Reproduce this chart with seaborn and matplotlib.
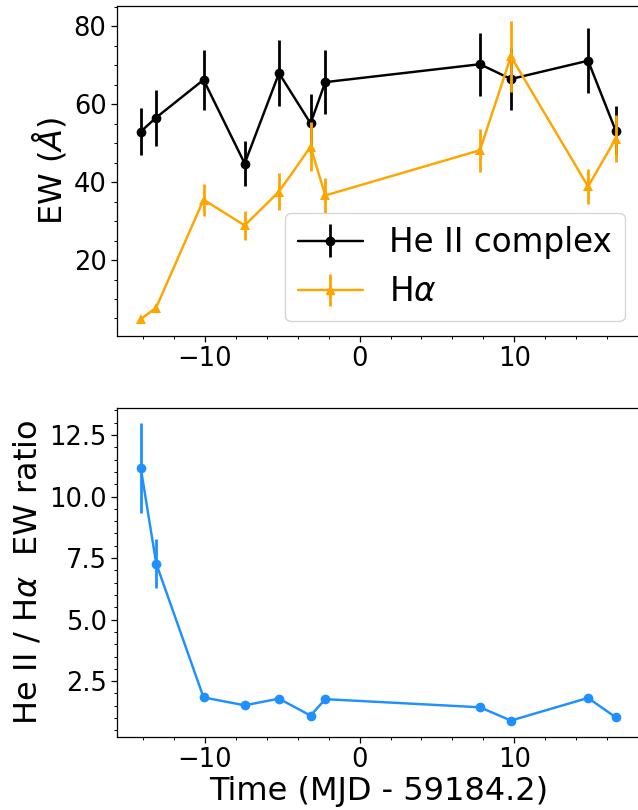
import numpy as np
import pandas as pd
import matplotlib
matplotlib.use("Agg")
import matplotlib.pyplot as plt
import seaborn as sns

# ---- data ----
time = [-14.15, -13.15, -10.09, -7.43, -5.21, -3.17, -2.22, 7.78, 9.78, 14.77, 16.56]
heii_ew = [53.0, 56.6, 66.3, 44.8, 68.0, 55.1, 65.7, 70.3, 66.5, 71.2, 53.2]
heii_err = [6.0, 7.2, 7.7, 5.7, 8.5, 7.5, 8.3, 8.1, 8.0, 8.3, 6.3]
ha_ew = [4.8, 7.8, 35.5, 28.9, 37.6, 49.1, 36.6, 48.2, 72.3, 38.9, 51.2]
ha_err = [0.45, 0.5, 4.1, 3.65, 4.7, 6.3, 4.55, 5.5, 9.1, 4.4, 6.0]
ratio = [11.17, 7.28, 1.84, 1.52, 1.79, 1.10, 1.77, 1.44, 0.90, 1.82, 1.03]
ratio_err = [1.82, 1.0, 0.12, 0.1, 0.12, 0.1, 0.12, 0.1, 0.06, 0.12, 0.1]

labels = ["He II complex", r"H$\alpha$"]
ylabel_top = r"EW ($\AA$)"
ylabel_bot = r"He II / H$\alpha$  EW ratio"
xlabel = "Time (MJD - 59184.2)"

sns.set_style("white")
plt.rcParams["font.family"] = ["DejaVu Sans"]
plt.rcParams["axes.edgecolor"] = "black"
plt.rcParams["xtick.color"] = "black"
plt.rcParams["ytick.color"] = "black"
plt.rcParams["text.color"] = "black"
plt.rcParams["axes.labelcolor"] = "black"
plt.rcParams["xtick.bottom"] = True
plt.rcParams["ytick.left"] = True

df = pd.DataFrame({"time": time, "heii": heii_ew, "heii_err": heii_err,
                   "ha": ha_ew, "ha_err": ha_err, "ratio": ratio, "ratio_err": ratio_err})

fig = plt.figure(figsize=(6.38, 8.1), dpi=100)
W, H = 638.0, 810.0
left, right = 117, 639.5
ax1 = fig.add_axes([left / W, 1 - 336 / H, (right - left) / W, 330 / H])
ax2 = fig.add_axes([left / W, 1 - 737 / H, (right - left) / W, 329 / H])

MS = 7
LW = 1.75
ELW = 2.0

# top panel
sns.lineplot(data=df, x="time", y="heii", ax=ax1, color="k", marker="o",
             markersize=MS, markeredgewidth=0, lw=LW, legend=False)
ax1.errorbar(df["time"], df["heii"], yerr=df["heii_err"], fmt="none", ecolor="k", elinewidth=ELW)
sns.lineplot(data=df, x="time", y="ha", ax=ax1, color="orange", marker="^",
             markersize=MS, markeredgewidth=0, lw=LW, legend=False)
ax1.errorbar(df["time"], df["ha"], yerr=df["ha_err"], fmt="none", ecolor="orange", elinewidth=ELW)
h1 = ax1.errorbar([np.nan], [np.nan], yerr=[np.nan], fmt="-o", color="k", lw=LW, elinewidth=ELW,
                  markersize=6, label=labels[0])
h2 = ax1.errorbar([np.nan], [np.nan], yerr=[np.nan], fmt="-^", color="orange", lw=LW, elinewidth=ELW,
                  markersize=6, label=labels[1])
ax1.legend(handles=[h1, h2], loc="lower right", fontsize=23.5, borderaxespad=0.45)
ax1.set_xlabel("")
ax1.set_ylabel(ylabel_top, fontsize=23)

# bottom panel
sns.lineplot(data=df, x="time", y="ratio", ax=ax2, color="dodgerblue", marker="o",
             markersize=MS, markeredgewidth=0, lw=LW, legend=False)
ax2.errorbar(df["time"], df["ratio"], yerr=df["ratio_err"], fmt="none", ecolor="dodgerblue", elinewidth=ELW)
ax2.set_xlabel(xlabel, fontsize=23, labelpad=2)
ax2.set_ylabel(ylabel_bot, fontsize=23)

for ax in (ax1, ax2):
    ax.minorticks_on()
    ax.tick_params(axis="both", which="major", labelsize=18.5, length=4, width=0.9, direction="out")
    ax.tick_params(axis="both", which="minor", length=2.4, width=0.7, direction="out")
    for s in ax.spines.values():
        s.set_linewidth(0.9)
        s.set_color("black")
    ax.spines["right"].set_visible(False)

fig.savefig("out.png", dpi=100)
